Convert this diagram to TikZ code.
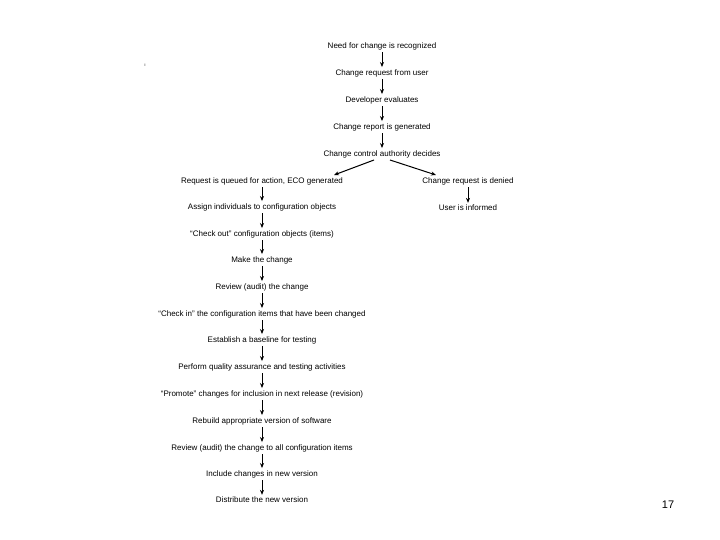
\documentclass[tikz,border=0pt]{standalone}
\usepackage{fontspec}
\setmainfont{Liberation Sans}
\usetikzlibrary{arrows.meta}
\begin{document}
\begin{tikzpicture}[x=1pt,y=-1pt,
  lbl/.style={inner sep=0pt,font=\fontsize{8}{9}\selectfont},
  arr/.style={-{Stealth[length=5pt,width=4pt]},line width=1pt,shorten <=2.5pt,shorten >=2pt}]
\useasboundingbox (0,0) rectangle (720,540);
\node[lbl] (n1) at (382,46) {Need for change is recognized};
\node[lbl] (n2) at (382,73) {Change request from user};
\node[lbl] (n3) at (382,100) {Developer evaluates};
\node[lbl] (n4) at (382,127) {Change report is generated};
\node[lbl] (n5) at (382,154) {Change control authority decides};
\node[lbl] (l1) at (262,181) {Request is queued for action, ECO generated};
\node[lbl] (r1) at (468,181) {Change request is denied};
\node[lbl] (r2) at (468,208) {User is informed};
\node[lbl] (l2) at (262,207) {Assign individuals to configuration objects};
\node[lbl] (l3) at (262,234) {“Check out” configuration objects (items)};
\node[lbl] (l4) at (262,260) {Make the change};
\node[lbl] (l5) at (262,287) {Review (audit) the change};
\node[lbl] (l6) at (262,314) {“Check in” the configuration items that have been changed};
\node[lbl] (l7) at (262,340) {Establish a baseline for testing};
\node[lbl] (l8) at (262,367) {Perform quality assurance and testing activities};
\node[lbl] (l9) at (262,394) {“Promote” changes for inclusion in next release (revision)};
\node[lbl] (l10) at (262,421) {Rebuild appropriate version of software};
\node[lbl] (l11) at (262,448) {Review (audit) the change to all configuration items};
\node[lbl] (l12) at (262,474) {Include changes in new version};
\node[lbl] (l13) at (262,500) {Distribute the new version};
\node[inner sep=0pt,font=\fontsize{11}{12}\selectfont] (pg) at (668,505) {17};
\node[inner sep=0pt,font=\fontsize{4}{4}\selectfont] (dot) at (145,65) {i};
\foreach \a/\b in {n1/n2,n2/n3,n3/n4,n4/n5,r1/r2,l1/l2,l2/l3,l3/l4,l4/l5,l5/l6,l6/l7,l7/l8,l8/l9,l9/l10,l10/l11,l11/l12,l12/l13}
  \draw[arr] (\a.south) -- (\b.north);
\coordinate (sl) at (374,160);
\coordinate (sr) at (390,160);
\coordinate (el) at (334,175);
\coordinate (er) at (436,175);
\draw[arr,shorten <=0pt,shorten >=0pt] (sl) -- (el);
\draw[arr,shorten <=0pt,shorten >=0pt] (sr) -- (er);
\end{tikzpicture}
\end{document}
